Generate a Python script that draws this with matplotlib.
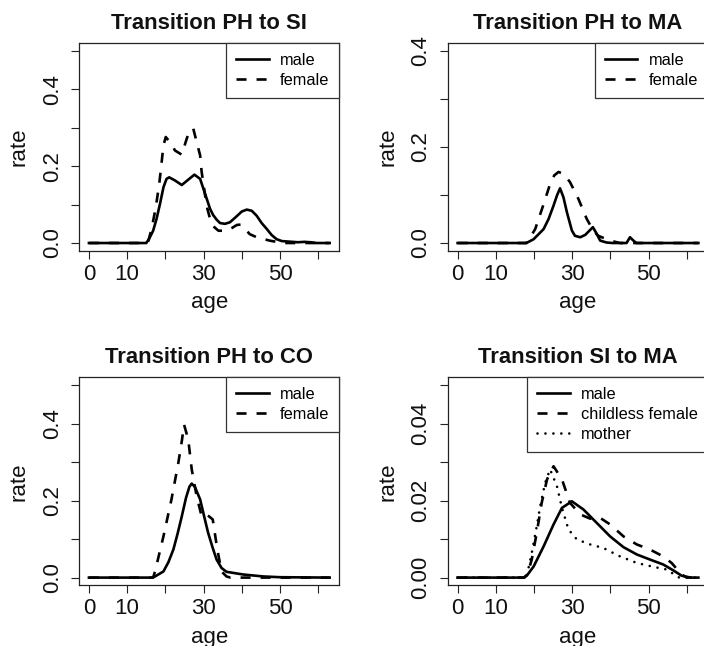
import matplotlib
matplotlib.use("Agg")
import matplotlib.pyplot as plt

plt.rcParams['font.family'] = ['Liberation Sans', 'DejaVu Sans']

# PH -> SI
si_male_age = [0, 15, 15.7, 16.8, 17.7, 18.6, 19.5, 20.3, 21.0, 22.5, 24.3, 26.0, 27.6, 29.1, 30.1, 31.0,
               31.7, 32.5, 33.4, 34.3, 35.6, 36.9, 38.7, 40.0, 41.3, 42.6, 43.9, 45.2, 46.5, 47.8,
               49.1, 50.5, 51.9, 54.7, 56.4, 58.0, 59.5, 63]
si_male_rate = [0, 0, 0.010, 0.032, 0.063, 0.102, 0.145, 0.167, 0.171, 0.163, 0.151, 0.165, 0.178, 0.167,
                0.137, 0.110, 0.089, 0.073, 0.061, 0.052, 0.050, 0.054, 0.070, 0.082, 0.087, 0.084,
                0.071, 0.052, 0.037, 0.021, 0.010, 0.005, 0.004, 0.002, 0.003, 0.002, 0, 0]
si_female_age = [0, 15.4, 16.4, 17.5, 18.4, 18.8, 19.5, 20.1, 21.6, 22.5, 24.3, 25.6, 26.4, 27.3, 28.2,
                 29.1, 29.5, 30.4, 31.0, 31.7, 32.5, 33.9, 36.0, 37.4, 38.7, 39.7, 40.8, 42.1, 43.9,
                 47.4, 50.9, 63]
si_female_rate = [0, 0, 0.037, 0.093, 0.154, 0.189, 0.254, 0.276, 0.258, 0.241, 0.230, 0.272, 0.293, 0.298,
                  0.263, 0.228, 0.185, 0.124, 0.089, 0.063, 0.044, 0.032, 0.032, 0.039, 0.047, 0.048,
                  0.037, 0.023, 0.015, 0.006, 0, 0]

# PH -> MA
ma_male_age = [0, 18, 19.9, 22.5, 23.8, 25.1, 26.0, 26.8, 27.7, 28.6, 29.9, 30.7, 32.1, 33.4, 35.4, 36.4,
               37.3, 39.0, 40.6, 44.2, 45.1, 46.0, 46.8, 63]
ma_male_rate = [0, 0, 0.008, 0.029, 0.050, 0.078, 0.099, 0.114, 0.095, 0.064, 0.026, 0.015, 0.012, 0.017,
                0.033, 0.019, 0.005, 0.001, 0, 0, 0.012, 0.005, 0, 0]
ma_female_age = [0, 18, 19.0, 20.3, 22.5, 24.2, 25.3, 26.4, 27.7, 29.4, 31.6, 33.8, 35.5, 36.8, 39.9, 42.5, 63]
ma_female_rate = [0, 0, 0.012, 0.029, 0.081, 0.123, 0.141, 0.148, 0.144, 0.127, 0.092, 0.050, 0.026, 0.015,
                  0.005, 0, 0]

# PH -> CO
co_male_age = [0, 16.5, 17.3, 19.5, 20.8, 22.1, 23.2, 24.3, 25.4, 26.3, 26.9, 27.7, 29.1, 30.1, 31.2, 32.4,
               33.4, 34.7, 36.0, 40.4, 45.6, 50, 63]
co_male_rate = [0, 0, 0.003, 0.016, 0.040, 0.073, 0.114, 0.159, 0.207, 0.236, 0.244, 0.236, 0.203, 0.161,
                0.116, 0.077, 0.047, 0.025, 0.015, 0.008, 0.003, 0.001, 0]
co_female_age = [0, 16.8, 17.3, 19.5, 21.6, 23.4, 24.3, 24.9, 26.0, 26.9, 28.2, 29.5, 30.8, 32.4, 33.6, 34.7,
                 36.0, 37.0, 63]
co_female_rate = [0, 0, 0.016, 0.107, 0.203, 0.298, 0.354, 0.397, 0.358, 0.281, 0.211, 0.159, 0.164, 0.151,
                  0.073, 0.016, 0.003, 0, 0]

# SI -> MA
sm_male_age = [0, 17.2, 18.1, 19.9, 22.5, 25.1, 27.3, 29.9, 32.9, 36.4, 39.9, 43.4, 46.9, 50.3, 53.8, 56.4,
               58.6, 61, 63]
sm_male_rate = [0, 0, 0.0005, 0.0029, 0.0081, 0.0138, 0.0181, 0.0198, 0.0177, 0.0142, 0.0107, 0.0079,
                0.0060, 0.0047, 0.0034, 0.0019, 0.0005, 0, 0]
sm_childless_age = [0, 17.5, 18.3, 19.4, 20.7, 22.0, 23.4, 25.1, 27.3, 29.4, 32.1, 34.7, 37.3, 39.9, 43.4,
                    46.9, 50.3, 53.8, 56.0, 58.6, 60, 63]
sm_childless_rate = [0, 0, 0.001, 0.0047, 0.0116, 0.0194, 0.0255, 0.0289, 0.0255, 0.0194, 0.0164, 0.0153,
                     0.0155, 0.0138, 0.0107, 0.0086, 0.0073, 0.0055, 0.0038, 0.0008, 0, 0]
sm_mother_age = [0, 18, 19.4, 20.7, 21.6, 22.9, 24.2, 26.0, 27.3, 29.0, 31.2, 34.7, 38.1, 42.5, 46.9, 51.2,
                 54.7, 56.4, 57.5, 58, 63]
sm_mother_rate = [0, 0, 0.0064, 0.0133, 0.0185, 0.0246, 0.0281, 0.0237, 0.0181, 0.0125, 0.0099, 0.0086,
                  0.0077, 0.0055, 0.0038, 0.0028, 0.0021, 0.0010, 0.0003, 0, 0]

x_ticks = [0, 10, 20, 30, 40, 50, 60]
x_labels = ['0', '10', '', '30', '', '50', '']

W, H = 704, 646
fig = plt.figure(figsize=(W / 100, H / 100), dpi=100)

def make_axes(left, top, right, bottom):
    return fig.add_axes([left / W, 1 - bottom / H, (right - left) / W, (bottom - top) / H])

LW = 1.9
DASH = (3.8, 3.8)

def style(ax, title, ymax, yticks, ylabels):
    ax.set_xlim(-0.04 * 63, 63 * 1.04)
    ax.set_ylim(-0.04 * ymax, 1.04 * ymax)
    ax.set_xticks(x_ticks)
    ax.set_xticklabels(x_labels)
    ax.set_yticks(yticks)
    ax.set_yticklabels(ylabels)
    for lbl in ax.get_yticklabels():
        lbl.set_rotation(90)
        lbl.set_va('center')
    ax.tick_params(axis='both', length=5.5, width=0.8, labelsize=16, color='#222222', labelcolor='#111111')
    ax.tick_params(axis='x', pad=4.0)
    ax.tick_params(axis='y', pad=6.5)
    for s in ax.spines.values():
        s.set_linewidth(0.9)
        s.set_color('#222222')
    ax.set_title(title, fontsize=15.8, fontweight='bold', pad=10, color='#111111')
    ax.set_xlabel('age', fontsize=16, color='#111111')
    ax.set_ylabel('rate', fontsize=16, color='#111111')
    ax.xaxis.set_label_coords(0.5, -0.2)
    ax.yaxis.set_label_coords(-0.19, 0.5)

def add_legend(ax):
    leg = ax.legend(loc='upper right', borderaxespad=0, fancybox=False, framealpha=1,
                    edgecolor='#333333', fontsize=11.8, handlelength=2.0, handletextpad=0.7,
                    labelspacing=0.3, borderpad=0.6)
    leg.get_frame().set_linewidth(0.9)

# top left
ax1 = make_axes(79.3, 43.3, 339.3, 250.7)
ax1.plot(si_male_age, si_male_rate, color='black', lw=LW, label='male')
ax1.plot(si_female_age, si_female_rate, color='black', lw=LW, dashes=DASH, label='female')
style(ax1, 'Transition PH to SI', 0.5, [0, 0.1, 0.2, 0.3, 0.4, 0.5], ['0.0', '', '0.2', '', '0.4', ''])
add_legend(ax1)

# top right
ax2 = make_axes(448, 43.3, 708, 250.7)
ax2.plot(ma_male_age, ma_male_rate, color='black', lw=LW, label='male')
ax2.plot(ma_female_age, ma_female_rate, color='black', lw=LW, dashes=DASH, label='female')
style(ax2, 'Transition PH to MA', 0.4, [0, 0.1, 0.2, 0.3, 0.4], ['0.0', '', '0.2', '', '0.4'])
add_legend(ax2)

# bottom left
ax3 = make_axes(79.3, 377.3, 339.3, 585.3)
ax3.plot(co_male_age, co_male_rate, color='black', lw=LW, label='male')
ax3.plot(co_female_age, co_female_rate, color='black', lw=LW, dashes=DASH, label='female')
style(ax3, 'Transition PH to CO', 0.5, [0, 0.1, 0.2, 0.3, 0.4, 0.5], ['0.0', '', '0.2', '', '0.4', ''])
add_legend(ax3)

# bottom right
ax4 = make_axes(448, 377.3, 708, 585.3)
ax4.plot(sm_male_age, sm_male_rate, color='black', lw=LW, label='male')
ax4.plot(sm_childless_age, sm_childless_rate, color='black', lw=LW, dashes=DASH, label='childless female')
ax4.plot(sm_mother_age, sm_mother_rate, color='black', lw=LW, dashes=(0.01, 3.0),
         dash_capstyle='round', label='mother')
style(ax4, 'Transition SI to MA', 0.05, [0, 0.01, 0.02, 0.03, 0.04, 0.05],
      ['0.00', '', '0.02', '', '0.04', ''])
add_legend(ax4)

fig.savefig('out.png', dpi=100)
